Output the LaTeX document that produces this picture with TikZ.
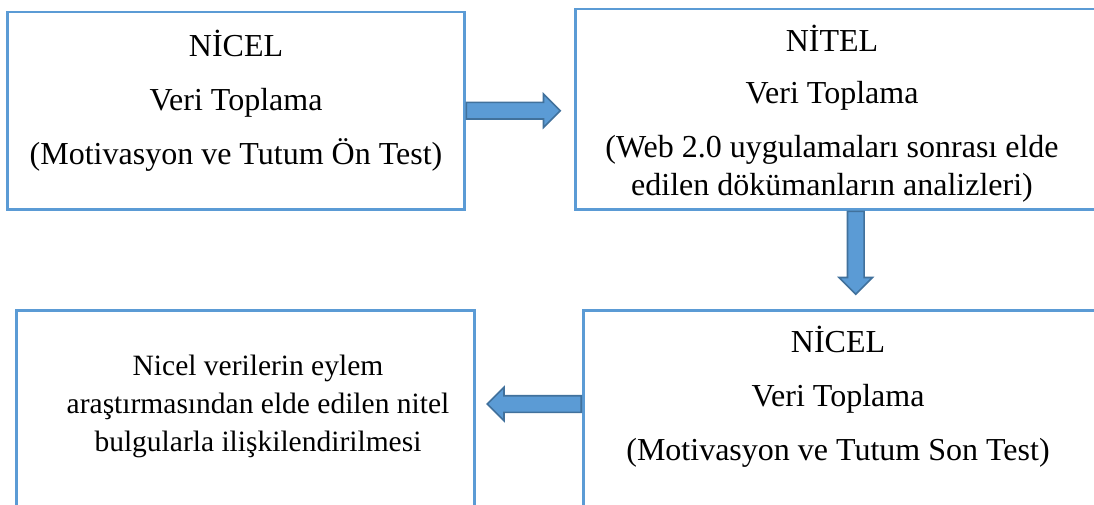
\documentclass[tikz,border=0pt]{standalone}
\usepackage{fontspec}
\setmainfont{Liberation Serif}
\usetikzlibrary{shapes.arrows,positioning,calc}
\definecolor{boxblue}{RGB}{91,155,213}
\definecolor{arrowedge}{RGB}{65,113,156}
\tikzset{
  stepbox/.style={draw=boxblue,line width=2.5pt,anchor=north west,inner sep=0pt},
  boxtext/.style={anchor=north,align=center,inner sep=0pt,
    font=\fontsize{32}{38}\selectfont},
  fatarrow/.style={single arrow,draw=arrowedge,fill=boxblue,line width=1.6pt,
    inner sep=7.5pt,minimum width=32pt,single arrow head extend=8.5pt,anchor=tail}
}
\begin{document}
\begin{tikzpicture}[x=1pt,y=-1pt]
  \clip (0,0) rectangle (1094,505);
  \fill[white] (0,0) rectangle (1094,505);
  % boxes
  \node[stepbox,minimum width=457pt,minimum height=197pt] (n1) at (6,11) {};
  \node[stepbox,minimum width=561pt,minimum height=200pt] (n2) at (574,8) {};
  \node[stepbox,minimum width=540pt,minimum height=220pt] (n3) at (582,309) {};
  \node[stepbox,minimum width=458pt,minimum height=220pt] (n4) at (15,309) {};
  % texts
  \node[boxtext] (t1) at (236,30) {NİCEL\\[16pt]Veri Toplama\\[16pt](Motivasyon ve Tutum Ön Test)};
  \node[boxtext] (t2) at (832,25) {NİTEL\\[14pt]Veri Toplama\\[16pt](Web 2.0 uygulamaları sonrası elde\\edilen dökümanların analizleri)};
  \node[boxtext] (t3) at (838,326) {NİCEL\\[16pt]Veri Toplama\\[16pt](Motivasyon ve Tutum Son Test)};
  \node[boxtext,font=\fontsize{29.5}{38}\selectfont] (t4) at (258,355) {Nicel verilerin eylem\\araştırmasından elde edilen nitel\\bulgularla ilişkilendirilmesi};
  % arrows
  \node[fatarrow,minimum height=94pt] (a12) at (n1.east) {};
  \node[fatarrow,minimum height=83pt,shape border rotate=270] (a23) at (n2.south) {};
  \node[fatarrow,minimum height=94pt,shape border rotate=180] (a34) at (n3.west |- 0,404) {};
\end{tikzpicture}
\end{document}
